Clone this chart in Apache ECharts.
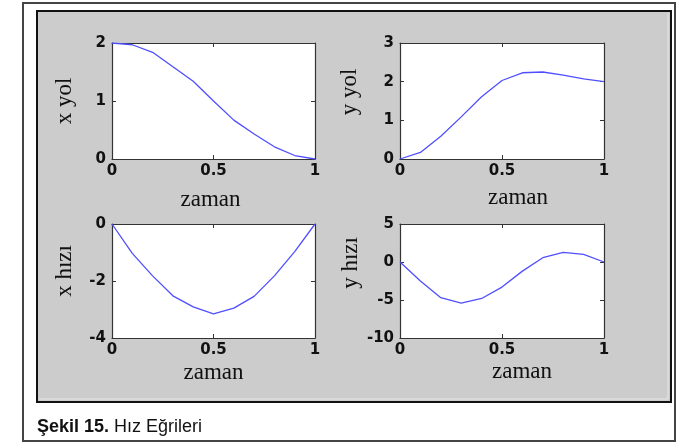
<!DOCTYPE html>
<html>
<head>
<meta charset="utf-8">
<script src="https://cdn.jsdelivr.net/npm/echarts@6/dist/echarts.min.js"></script>
<style>html,body{margin:0;padding:0;background:#fff}#c{width:687px;height:444px}</style>
</head>
<body>
<div id="c"></div>
<script>
var zaman = [0, 0.1, 0.2, 0.3, 0.4, 0.5, 0.6, 0.7, 0.8, 0.9, 1.0];
var xYol = [2, 1.97, 1.84, 1.59, 1.34, 1.0, 0.67, 0.43, 0.21, 0.06, 0];
var yYol = [0, 0.17, 0.59, 1.09, 1.61, 2.03, 2.23, 2.25, 2.17, 2.07, 2.0];
var xHizi = [0, -1.03, -1.82, -2.52, -2.91, -3.15, -2.95, -2.54, -1.82, -0.97, 0];
var yHizi = [0, -2.5, -4.7, -5.4, -4.8, -3.3, -1.2, 0.57, 1.27, 1.0, 0];
var yNames = ['x yol', 'y yol', 'x hızı', 'y hızı'];
var yRanges = [[0, 2, 1], [0, 3, 1], [-4, 0, 2], [-10, 5, 5]];
var xLabel = 'zaman';
var caption = 'Şekil 15.';
var captionRest = ' Hız Eğrileri';

var seriesData = [xYol, yYol, xHizi, yHizi];
var grids = [
  {left: 112, top: 43, width: 203, height: 116},
  {left: 400, top: 43, width: 204, height: 116},
  {left: 112, top: 224, width: 203, height: 114},
  {left: 400, top: 224, width: 204, height: 114}
];
var xNameGap = [29, 27, 23, 22];
var xNamePad = [[0,6,0,0], [0,0,0,32], [0,0,0,0], [0,0,0,40]];
var yNameGap = [36, 39, 36, 38];
var yNamePad = [[0,0,0,0], [0,0,0,18], [0,0,0,20], [0,0,0,36]];

var tickFont = {fontFamily: 'DejaVu Sans', fontWeight: 'bold', fontSize: 15, color: '#111'};
var nameFont = {fontFamily: 'Liberation Serif', fontSize: 23, color: '#111'};
var lineCol = '#333';

function axLine() { return {show: true, onZero: false, lineStyle: {color: lineCol, width: 1.2}}; }
function axTick() { return {show: true, inside: true, length: 4, lineStyle: {color: lineCol}}; }

var xAxis = [], yAxis = [], series = [];
grids.forEach(function (g, i) {
  g.show = true; g.backgroundColor = '#fff'; g.borderWidth = 0; g.containLabel = false;
  xAxis.push({
    type: 'value', gridIndex: i, min: 0, max: 1, interval: 0.5, position: 'bottom',
    name: xLabel, nameLocation: 'middle', nameGap: xNameGap[i],
    nameTextStyle: Object.assign({padding: xNamePad[i]}, nameFont),
    axisLine: axLine(), axisTick: axTick(),
    axisLabel: Object.assign({margin: 5}, tickFont),
    splitLine: {show: false}
  });
  xAxis.push({
    type: 'value', gridIndex: i, min: 0, max: 1, interval: 0.5, position: 'top',
    axisLine: axLine(), axisTick: axTick(),
    axisLabel: {show: false}, splitLine: {show: false}
  });
  var r = yRanges[i];
  yAxis.push({
    type: 'value', gridIndex: i, min: r[0], max: r[1], interval: r[2], position: 'left',
    name: yNames[i], nameLocation: 'middle', nameGap: yNameGap[i],
    nameTextStyle: Object.assign({padding: yNamePad[i]}, nameFont),
    axisLine: axLine(), axisTick: axTick(),
    axisLabel: Object.assign({margin: 6}, tickFont),
    splitLine: {show: false}
  });
  yAxis.push({
    type: 'value', gridIndex: i, min: r[0], max: r[1], interval: r[2], position: 'right',
    axisLine: axLine(), axisTick: axTick(),
    axisLabel: {show: false}, splitLine: {show: false}
  });
  series.push({
    type: 'line', xAxisIndex: 2 * i, yAxisIndex: 2 * i, showSymbol: false, smooth: false,
    lineStyle: {color: '#4f4fff', width: 1.3}, animation: false,
    data: zaman.map(function (t, k) { return [t, seriesData[i][k]]; })
  });
});

var chart = echarts.init(document.getElementById('c'), null, {renderer: 'canvas'});
chart.setOption({
  animation: false,
  backgroundColor: '#fff',
  grid: grids, xAxis: xAxis, yAxis: yAxis, series: series,
  graphic: [
    {type: 'rect', z: -100, shape: {x: 23, y: 3, width: 652, height: 438},
     style: {fill: '#fff', stroke: '#444', lineWidth: 2}},
    {type: 'rect', z: -99, shape: {x: 37, y: 11, width: 634, height: 391},
     style: {fill: '#cccccc', stroke: '#111', lineWidth: 2}},
    {type: 'polyline', z: -98, shape: {points: [[39, 399], [668, 399], [668, 13]]},
     style: {stroke: '#e6e6e6', lineWidth: 1, fill: null}},
    {type: 'text', z: 10, left: 37, top: 418,
     style: {text: '{b|' + caption + '}{r|' + captionRest + '}',
       rich: {b: {fontFamily: 'Liberation Sans', fontWeight: 'bold', fontSize: 18, fill: '#111'},
              r: {fontFamily: 'Liberation Sans', fontSize: 18, fill: '#111'}}}}
  ]
});
</script>
</body>
</html>
